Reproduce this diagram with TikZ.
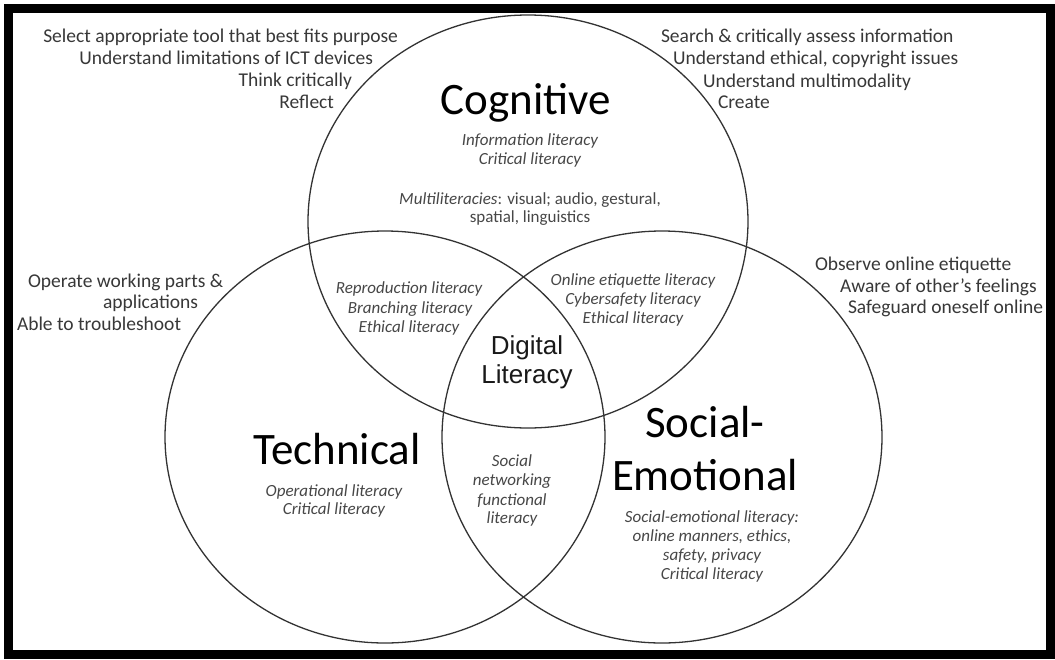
\documentclass[tikz,border=0pt]{standalone}
\usepackage{fontspec}
\setmainfont{Carlito}
\newfontfamily\arialfont{Liberation Sans}
\definecolor{txtgray}{HTML}{383838}
\definecolor{litgray}{HTML}{474747}
\definecolor{linegray}{HTML}{333333}
\begin{document}
\begin{tikzpicture}[x=1pt,y=-1pt,
  every node/.style={inner sep=0pt, outer sep=0pt},
  bigl/.style={font=\fontsize{45}{50}\selectfont, text=black, anchor=base},
  dig/.style={font=\arialfont\fontsize{26}{28}\selectfont, text=black!90, anchor=base},
  lit/.style={font=\fontsize{17}{19}\selectfont\itshape, text=litgray, anchor=base},
  litup/.style={font=\fontsize{17}{19}\selectfont, text=litgray, anchor=base},
  outw/.style={font=\fontsize{19.5}{22}\selectfont, text=txtgray, anchor=base west},
  oute/.style={font=\fontsize{19.5}{22}\selectfont, text=txtgray, anchor=base east},
  ring/.style={draw=linegray, line width=1.3pt},
  frame/.style={draw=black, line width=9pt}]
\useasboundingbox (0,0) rectangle (1055,659);
\fill[white] (0,0) rectangle (1055,659);
\draw[frame] (8.5,8.5) rectangle (1050.5,654.5);

% circles
\draw[ring] (528,221.5) ellipse [x radius=220pt, y radius=206.5pt];
\draw[ring] (385,437) ellipse [x radius=220pt, y radius=206pt];
\draw[ring] (662,437) ellipse [x radius=220pt, y radius=206pt];

% outer texts top-left
\node[oute] (tl1) at (398,42) {Select appropriate tool that best fits purpose};
\node[oute] (tl2) at (373,64) {Understand limitations of ICT devices};
\node[oute] (tl3) at (352,86.5) {Think critically};
\node[oute] (tl4) at (334,108.5) {Reflect};

% outer texts top-right
\node[outw] (tr1) at (661,42) {Search \& critically assess information};
\node[outw] (tr2) at (673,64) {Understand ethical, copyright issues};
\node[outw] (tr3) at (703,87) {Understand multimodality};
\node[outw] (tr4) at (718,108.5) {Create};

% outer texts left-middle
\node[outw] (lm1) at (28,287) {Operate working parts \&};
\node[outw] (lm2) at (103,308.5) {applications};
\node[outw] (lm3) at (17,330) {Able to troubleshoot};

% outer texts right-middle
\node[outw] (rm1) at (815,270) {Observe online etiquette};
\node[outw] (rm2) at (840,292) {Aware of other’s feelings};
\node[outw] (rm3) at (848,313) {Safeguard oneself online};

% Cognitive
\node[bigl] (cog) at (526,114) {Cognitive};
\node[lit] (cog1) at (530,145) {Information literacy};
\node[lit] (cog2) at (530,164) {Critical literacy};
\node[litup] (cog3) at (530,204) {\textit{Multiliteracies}: visual; audio, gestural,};
\node[litup] (cog4) at (530,222) {spatial, linguistics};

% Cognitive-Technical lens
\node[lit] (ct1) at (409,293) {Reproduction literacy};
\node[lit] (ct2) at (410,313) {Branching literacy};
\node[lit] (ct3) at (409,332) {Ethical literacy};

% Cognitive-Social lens
\node[lit] (cs1) at (633,285) {Online etiquette literacy};
\node[lit] (cs2) at (633,304) {Cybersafety literacy};
\node[lit] (cs3) at (633,323) {Ethical literacy};

% Digital Literacy
\node[dig] (dl1) at (527,354) {Digital};
\node[dig] (dl2) at (527,383) {Literacy};

% Technical
\node[bigl] (tech) at (337,464) {Technical};
\node[lit] (te1) at (334,496) {Operational literacy};
\node[lit] (te2) at (334,514) {Critical literacy};

% Technical-Social lens
\node[lit] (ts1) at (512,466) {Social};
\node[lit] (ts2) at (512,485) {networking};
\node[lit] (ts3) at (512,505) {functional};
\node[lit] (ts4) at (512,523) {literacy};

% Social-Emotional
\node[bigl] (se1) at (705,437) {Social-};
\node[bigl] (se2) at (705,490) {Emotional};
\node[lit] (so1) at (712,522) {Social-emotional literacy:};
\node[lit] (so2) at (712,541) {online manners, ethics,};
\node[lit] (so3) at (712,560) {safety, privacy};
\node[lit] (so4) at (712,579) {Critical literacy};
\end{tikzpicture}
\end{document}
